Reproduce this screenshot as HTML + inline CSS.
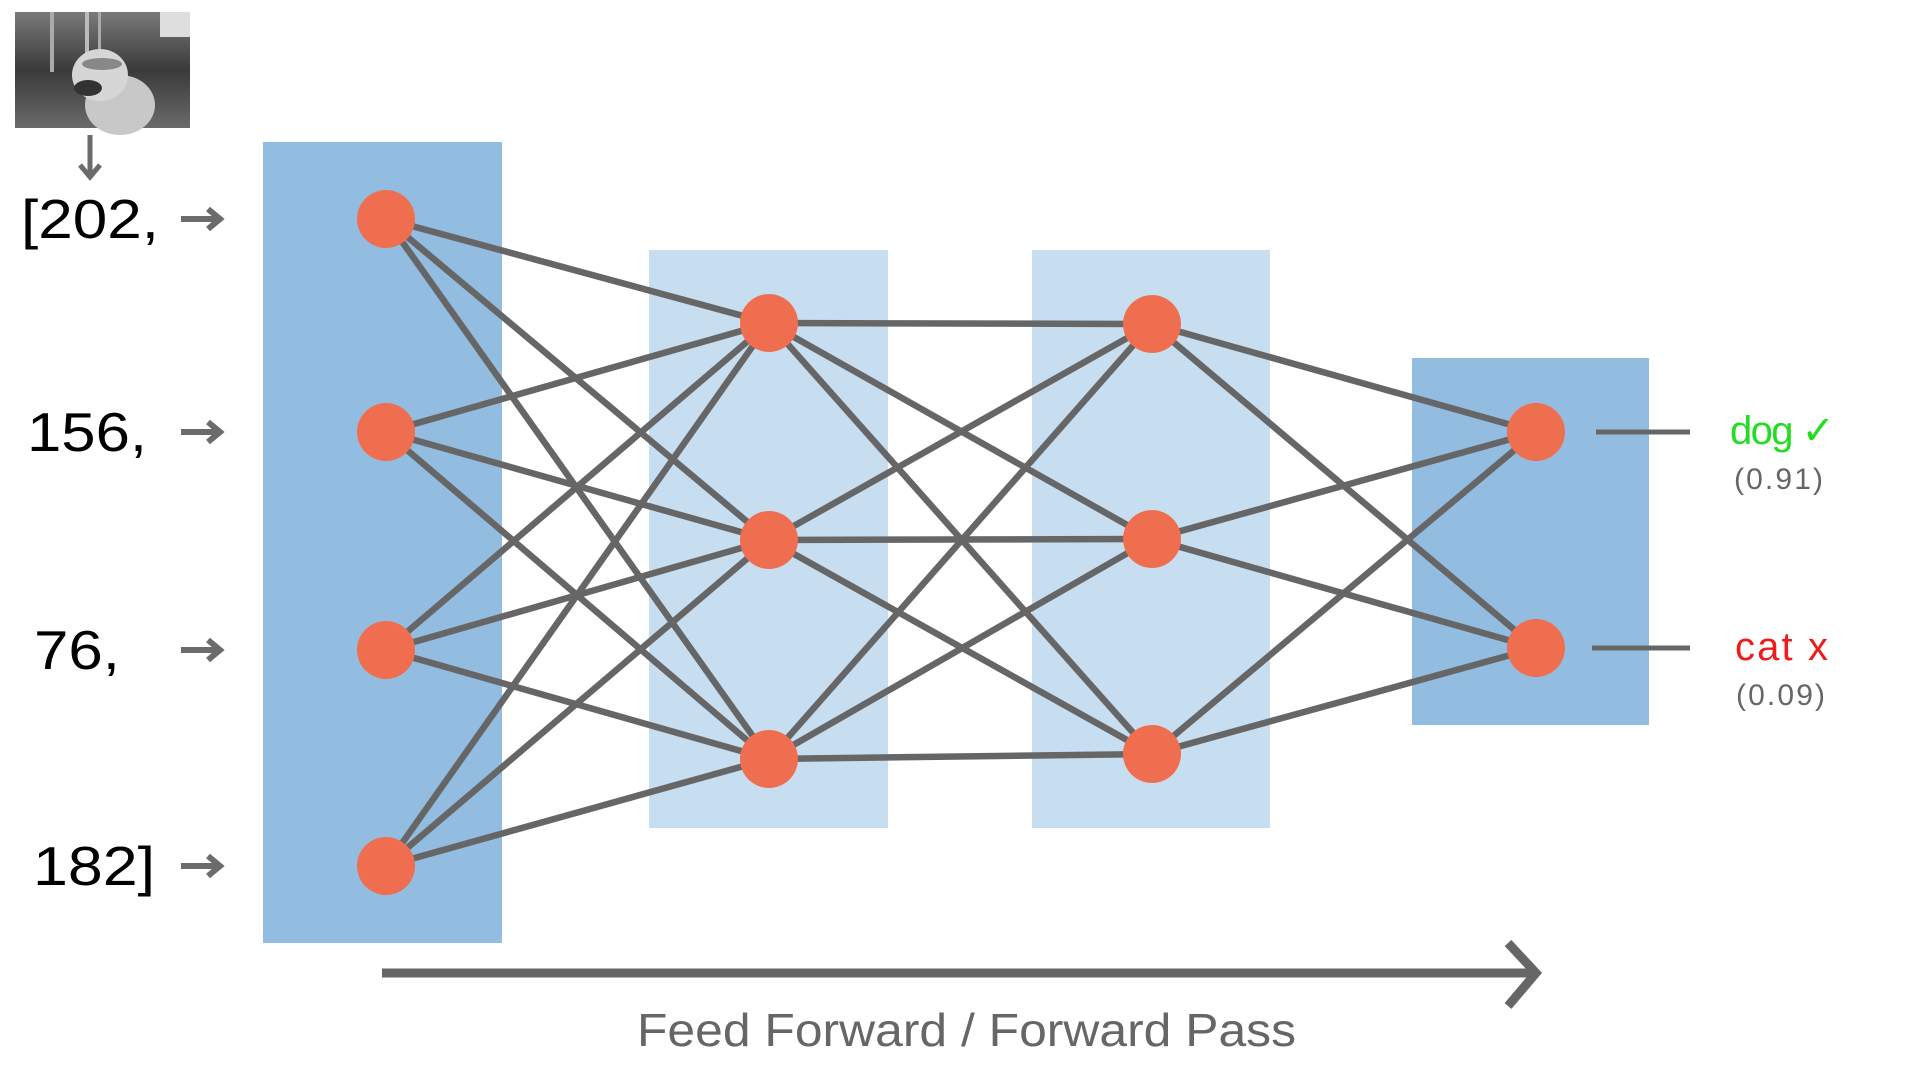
<!DOCTYPE html>
<html><head><meta charset="utf-8"><style>
html,body{margin:0;padding:0;background:#fff;width:1920px;height:1080px;overflow:hidden}
svg{display:block}
text{font-family:"Liberation Sans","DejaVu Sans",sans-serif}
</style></head><body>
<svg id="chart" width="1920" height="1080" viewBox="0 0 1920 1080" xmlns="http://www.w3.org/2000/svg">
<defs>
<linearGradient id="bg" x1="0" y1="0" x2="0" y2="1"><stop offset="0" stop-color="#7a7a7a"/><stop offset="0.5" stop-color="#3a3a3a"/><stop offset="1" stop-color="#6a6a6a"/></linearGradient>
</defs>
<g>
<rect x="15" y="12" width="175" height="116" fill="url(#bg)"/>
<rect x="50" y="12" width="4" height="60" fill="#aaa"/><rect x="85" y="12" width="4" height="50" fill="#bbb"/><rect x="98" y="12" width="3" height="45" fill="#aaa"/>
<rect x="160" y="12" width="30" height="25" fill="#ddd"/>
<ellipse cx="120" cy="105" rx="35" ry="30" fill="#c8c8c8"/>
<ellipse cx="100" cy="75" rx="28" ry="26" fill="#d6d6d6"/>
<ellipse cx="88" cy="88" rx="14" ry="8" fill="#333"/>
<ellipse cx="102" cy="64" rx="20" ry="6" fill="#888"/>
</g>
<path d="M90 135 V175 M80 165 L90 177 L100 165" stroke="#6b6b6b" stroke-width="5" fill="none"/>
<g id="layers"></g>
<g id="edges"></g>
<g id="nodes"></g>
<g id="inputs"></g>
<g>
<line x1="1596" y1="432" x2="1690" y2="432" stroke="#666" stroke-width="5"/>
<line x1="1592" y1="648" x2="1690" y2="648" stroke="#666" stroke-width="5"/>
<text x="1730" y="444" font-size="40" fill="#22dd22" textLength="105">dog ✓</text>
<text x="1734" y="489" font-size="30" fill="#666" textLength="89">(0.91)</text>
<text x="1735" y="660" font-size="40" fill="#ee1c1c" textLength="93">cat x</text>
<text x="1736" y="705" font-size="30" fill="#666" textLength="89">(0.09)</text>
</g>
<g>
<line x1="382" y1="973" x2="1535" y2="973" stroke="#666" stroke-width="9"/>
<path d="M1508 943 L1536 973 L1508 1006" stroke="#666" stroke-width="9" fill="none"/>
</g>
<text x="637" y="1046" font-size="46" fill="#666" textLength="659" lengthAdjust="spacingAndGlyphs">Feed Forward / Forward Pass</text>
</svg>
<script>
const layerSizes = [4, 3, 3, 2];
const inputValues = ["[202,", "156,", "76,", "182]"];
const layerX = [386, 769, 1152, 1536];
const nodeY = [[219, 432, 650, 866], [323, 540, 759], [324, 539, 754], [432, 648]];
const boxes = [[263,142,239,801,"#93bde0"],[649,250,239,578,"#c7ddf0"],[1032,250,238,578,"#c7ddf0"],[1412,358,237,367,"#93bde0"]];
const NS = "http://www.w3.org/2000/svg";
function mk(tag, attrs, parent){const e=document.createElementNS(NS,tag);for(const k in attrs)e.setAttribute(k,attrs[k]);parent.appendChild(e);return e;}
const gL=document.getElementById('layers'),gE=document.getElementById('edges'),gN=document.getElementById('nodes'),gI=document.getElementById('inputs');
boxes.forEach((b,i)=>{const r=mk('rect',{x:b[0],y:b[1],width:b[2],height:b[3],fill:b[4]},gL);

});
for(let l=0;l<layerSizes.length-1;l++){for(let i=0;i<layerSizes[l];i++){for(let j=0;j<layerSizes[l+1];j++){
const ln=mk('line',{x1:layerX[l],y1:nodeY[l][i],x2:layerX[l+1],y2:nodeY[l+1][j],stroke:'#666','stroke-width':6.5},gE);

}}}
layerSizes.forEach((n,l)=>{for(let i=0;i<n;i++){const c=mk('circle',{cx:layerX[l],cy:nodeY[l][i],r:29,fill:'#f06e50'},gN);

}});
const lblX=[21,27,34,33];
const lblW=[138,120,86,122];
inputValues.forEach((v,i)=>{const y=nodeY[0][i];
const t=mk('text',{x:lblX[i],y:y+19,'font-size':55,fill:'#000',textLength:lblW[i],lengthAdjust:'spacingAndGlyphs'},gI);t.textContent=v;


const a=mk('path',{d:'M181 '+y+' H218 M208 '+(y-10)+' L220 '+y+' L208 '+(y+10),stroke:'#6b6b6b','stroke-width':6,fill:'none'},gI);

});
</script>
</body></html>
